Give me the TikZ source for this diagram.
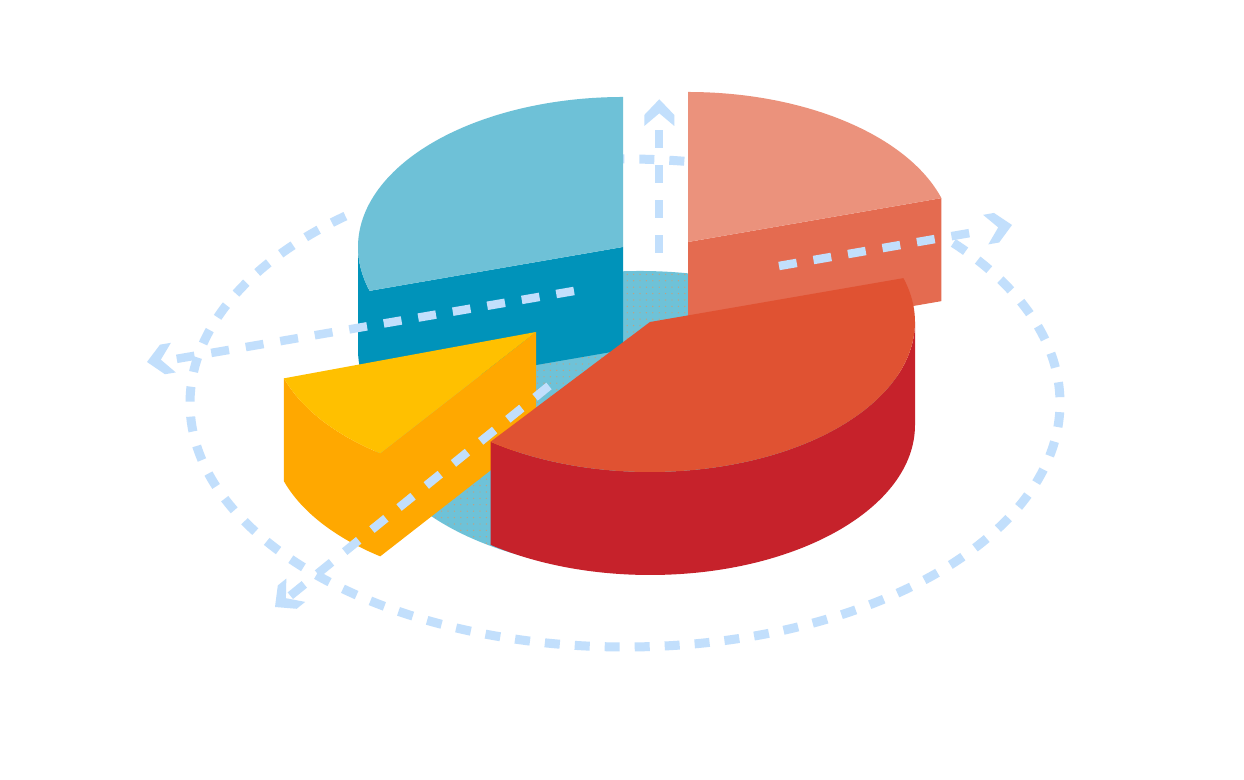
\documentclass[tikz,border=0pt]{standalone}
\usetikzlibrary{calc,patterns.meta}
\definecolor{bluetop}{HTML}{6EC1D7}
\definecolor{bluedark}{HTML}{0093BA}
\definecolor{salmontop}{HTML}{EB927C}
\definecolor{salmonside}{HTML}{E46B50}
\definecolor{redtop}{HTML}{E05232}
\definecolor{redwall}{HTML}{C6222B}
\definecolor{yeltop}{HTML}{FFC000}
\definecolor{yelside}{HTML}{FFA800}
\definecolor{basecol}{HTML}{6EC2D8}
\definecolor{dashcol}{HTML}{C2DFFC}
\definecolor{dotcol}{HTML}{D89A6A}
\begin{document}
\begin{tikzpicture}[x=0.5pt,y=0.5pt,
  orbit/.style={draw=dashcol,line width=4.5pt,dash pattern=on 7.5pt off 7.5pt},
  ray/.style={draw=dashcol,line width=4.25pt,dash pattern=on 9pt off 8.5pt},
  chev/.style={fill=dashcol},
  rim/.style={x radius=265,y radius=150}
]
\fill[white] (0,0) rectangle (1244,780);
\useasboundingbox (0,0) rectangle (1244,780);

% orbit ellipse (behind the pie)
\coordinate (O) at (625,377);
\draw[orbit] ($(O)+(130:435 and 244)$) arc[start angle=130,end angle=401,x radius=435,y radius=244];
\draw[orbit] ($(O)+(100:435 and 244)$) arc[start angle=100,end angle=80,x radius=435,y radius=244];

% base disk
\coordinate (BS) at (640,359);
\fill[basecol] (BS) ellipse[x radius=270,y radius=150];
\fill[pattern={Dots[radius=0.35pt,distance=3.2pt]},pattern color=dotcol,opacity=0.8] (BS) ellipse[x radius=270,y radius=150];

% blue slice 90..197
\coordinate (CB) at (623,533);
\fill[bluedark] ($(CB)+(180:265 and 150)$) arc[start angle=180,end angle=197,rim]
  -- (CB) -- ($(CB)+(0,-103)$) -- ($(CB)+(197:265 and 150)+(0,-103)$)
  arc[start angle=197,end angle=180,rim] -- cycle;
\fill[bluetop] (CB) -- ($(CB)+(90:265 and 150)$) arc[start angle=90,end angle=197,rim] -- cycle;

% salmon slice 17..90
\coordinate (CS) at (688,538);
\fill[salmonside] (CS) -- ($(CS)+(17:265 and 150)$) -- ++(0,-103) -- ($(CS)+(0,-103)$) -- cycle;
\fill[salmontop] (CS) -- ($(CS)+(17:265 and 150)$) arc[start angle=17,end angle=90,rim] -- cycle;

% yellow slice 198..234
\coordinate (CY) at (536,448);
\fill[yelside] ($(CY)+(198:265 and 150)$) arc[start angle=198,end angle=234,rim]
  -- (CY) -- ($(CY)+(0,-103)$) -- ($(CY)+(234:265 and 150)+(0,-103)$)
  arc[start angle=234,end angle=198,rim] -- cycle;
\fill[yeltop] (CY) -- ($(CY)+(198:265 and 150)$) arc[start angle=198,end angle=234,rim] -- cycle;

% red slice 233..377
\coordinate (CR) at (650,458);
\fill[redwall] ($(CR)+(233:265 and 150)$) arc[start angle=233,end angle=360,rim]
  -- ++(0,-103) arc[start angle=360,end angle=233,rim] -- cycle;
\fill[redtop] (CR) -- ($(CR)+(233:265 and 150)$) arc[start angle=233,end angle=377,rim] -- cycle;

% radial arrows
\coordinate (u0) at (659,527); \coordinate (u1) at (659,652);
\coordinate (l0) at (574,489); \coordinate (l1) at (170,420);
\coordinate (r0) at (779,514); \coordinate (r1) at (970,547);
\coordinate (d0) at (549,394); \coordinate (d1) at (290,184);
\draw[ray] (u0) -- (u1);
\draw[ray] (l0) -- (l1);
\draw[ray] (r0) -- (r1);
\draw[ray] (d0) -- (d1);
\foreach \px/\py/\ang in {659.3/680.7/90, 147/418/189.4, 1012/555/10, 275/173/218.9}{
  \fill[chev,shift={(\px,\py)},rotate=\ang] (0,0) -- (-15.7,15) -- (-26.7,15) -- (-14,0) -- (-26.7,-15) -- (-15.7,-15) -- cycle;
}
\end{tikzpicture}
\end{document}
